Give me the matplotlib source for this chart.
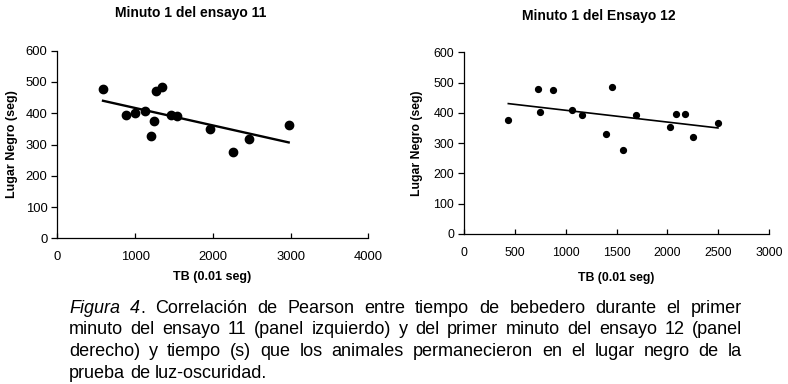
import numpy as np
import matplotlib
matplotlib.use("Agg")
import matplotlib.pyplot as plt

plt.rcParams['font.family'] = ['Liberation Sans', 'DejaVu Sans']

# ---- data ----
title_left = "Minuto 1 del ensayo 11"
title_right = "Minuto 1 del Ensayo 12"
xlabel = "TB (0.01 seg)"
ylabel = "Lugar Negro (seg)"

tb_11 = [588, 888, 995, 1132, 1209, 1244, 1265, 1351, 1466, 1535, 1960, 2260, 2466, 2976]
ln_11 = [477, 394, 402, 406, 326, 374, 472, 484, 394, 392, 350, 276, 317, 363]

tb_12 = [436, 725, 748, 879, 1062, 1158, 1397, 1456, 1567, 1695, 2023, 2082, 2177, 2249, 2498]
ln_12 = [376, 480, 404, 474, 409, 393, 329, 485, 277, 393, 353, 396, 396, 320, 365]

xticks_left = [0, 1000, 2000, 3000, 4000]
xticks_right = [0, 500, 1000, 1500, 2000, 2500, 3000]
yticks = [0, 100, 200, 300, 400, 500, 600]

caption_lines = [
    [[("Figura", "italic")], [("4", "italic"), (".", "normal")], [("Correlación", "normal")],
     [("de", "normal")], [("Pearson", "normal")], [("entre", "normal")], [("tiempo", "normal")],
     [("de", "normal")], [("bebedero", "normal")], [("durante", "normal")], [("el", "normal")],
     [("primer", "normal")]],
    "minuto del ensayo 11 (panel izquierdo) y del primer minuto del ensayo 12 (panel",
    "derecho) y tiempo (s) que los animales permanecieron en el lugar negro de la",
    "prueba de luz-oscuridad.",
]

W, H = 788, 384
fig = plt.figure(figsize=(W / 100, H / 100), dpi=100)
fig.patch.set_facecolor('white')


def px_axes(l, r, b, t):
    return fig.add_axes([l / W, 1 - b / H, (r - l) / W, (b - t) / H])


def style_axes(ax, xt, xmax, fs):
    ax.set_xlim(0, xmax)
    ax.set_ylim(0, 600)
    ax.set_xticks(xt)
    ax.set_yticks(yticks)
    for s in ['top', 'right']:
        ax.spines[s].set_visible(False)
    for s in ['left', 'bottom']:
        ax.spines[s].set_linewidth(0.9)
    ax.tick_params(axis='y', direction='out', length=4.5, width=0.9, pad=2.5, labelsize=fs)
    ax.tick_params(axis='x', direction='in', length=3.5, width=0.9, pad=9, labelsize=fs)


def scatter_fit(ax, x, y, ms, lw):
    x = np.array(x, float)
    y = np.array(y, float)
    ax.plot(x, y, 'o', color='black', ms=ms, mec='black', zorder=3)
    k, b = np.polyfit(x, y, 1)
    xs = np.array([x.min(), x.max()])
    ax.plot(xs, k * xs + b, color='black', lw=lw, zorder=2)


# left panel
axL = px_axes(57.3, 368.3, 238.3, 50.7)
style_axes(axL, xticks_left, 4000, 9.4)
scatter_fit(axL, tb_11, ln_11, 6.0, 1.7)
axL.set_xlabel(xlabel, fontsize=9, fontweight='bold')
axL.set_ylabel(ylabel, fontsize=9, fontweight='bold')
axL.xaxis.set_label_coords((212 - 57.3) / 311, (238.3 - 277.5) / 187.7)
axL.xaxis.label.set_va('center')
axL.yaxis.set_label_coords((12 - 57.3) / 311, 0.5)
axL.yaxis.label.set_va('center')

# right panel
axR = px_axes(464, 769, 234, 52.3)
style_axes(axR, xticks_right, 3000, 8.9)
scatter_fit(axR, tb_12, ln_12, 4.2, 1.2)
axR.set_xlabel(xlabel, fontsize=8.8, fontweight='bold')
axR.set_ylabel(ylabel, fontsize=8.8, fontweight='bold')
axR.xaxis.set_label_coords((616 - 464) / 305, (234 - 277.5) / 181.7)
axR.xaxis.label.set_va('center')
axR.yaxis.set_label_coords((417 - 464) / 305, 0.5)
axR.yaxis.label.set_va('center')

# titles
fig.text(191 / W, 1 - 13 / H, title_left, ha='center', va='center', fontsize=10, fontweight='bold')
fig.text(599 / W, 1 - 16 / H, title_right, ha='center', va='center', fontsize=10, fontweight='bold')

# caption (justified)
fig.canvas.draw()
renderer = fig.canvas.get_renderer()
CAP_FS = 13
X0, X1 = 69, 742
baselines = [312.7, 334.5, 356.3, 378]


def seg_width(s, st):
    t = fig.text(0, 0, s, fontsize=CAP_FS, style=st)
    w = t.get_window_extent(renderer).width
    t.remove()
    return w


space_w = seg_width("a a", "normal") - seg_width("aa", "normal")
for i, line in enumerate(caption_lines):
    if isinstance(line, str):
        words = [[(w, "normal")] for w in line.split(" ")]
    else:
        words = line
    widths = [sum(seg_width(s, st) for s, st in wd) for wd in words]
    last = (i == len(caption_lines) - 1)
    if last:
        gap = space_w
    else:
        gap = (X1 - X0 - sum(widths)) / (len(words) - 1)
    x = X0
    y = 1 - baselines[i] / H
    for wd, ww in zip(words, widths):
        xx = x
        for s, st in wd:
            fig.text(xx / W, y, s, fontsize=CAP_FS, style=st, ha='left', va='baseline')
            xx += seg_width(s, st)
        x += ww + gap

fig.savefig("out.png", dpi=100, facecolor='white')
